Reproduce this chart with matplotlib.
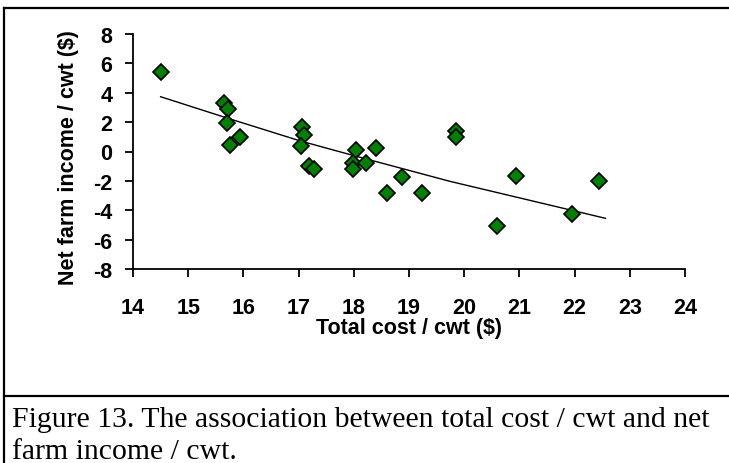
import matplotlib
matplotlib.use("Agg")
import matplotlib.pyplot as plt
from matplotlib.lines import Line2D

# values
total_cost = [14.50, 15.65, 15.72, 15.70, 15.93, 15.75, 17.07, 17.10, 17.04, 17.18,
              17.28, 18.04, 17.98, 17.98, 18.22, 18.41, 18.87, 18.60, 19.23, 19.85,
              19.85, 20.94, 20.60, 21.96, 22.45]
net_income = [5.40, 3.30, 2.90, 1.95, 0.97, 0.45, 1.70, 1.10, 0.40, -1.00,
              -1.20, 0.10, -0.80, -1.20, -0.80, 0.25, -1.75, -2.80, -2.80, 1.40,
              1.00, -1.70, -5.05, -4.25, -2.00]
# trend line as read along its course
trend_cost = [14.50, 15.72, 17.03, 18.00, 19.74, 22.56]
trend_income = [3.73, 2.26, 0.72, -0.28, -2.03, -4.55]
x_ticks = [14, 15, 16, 17, 18, 19, 20, 21, 22, 23, 24]
y_ticks = [-8, -6, -4, -2, 0, 2, 4, 6, 8]
caption_1 = "Figure 13. The association between total cost / cwt and net"
caption_2 = "farm income / cwt."

plt.rcParams['font.family'] = ['Liberation Sans', 'DejaVu Sans']
plt.rcParams['axes.unicode_minus'] = False

fig = plt.figure(figsize=(7.29, 4.64), dpi=100)
ax = fig.add_axes([133 / 729, 1 - 270 / 464, 552 / 729, 235 / 464])

ax.plot(trend_cost, trend_income, color='black', linewidth=1.0, zorder=2)
ax.plot(total_cost, net_income, linestyle='none', marker='D', markersize=8.3,
        markerfacecolor='#008000', markeredgecolor='black',
        markeredgewidth=1.2, zorder=3)

ax.set_xlim(14, 24)
ax.set_ylim(-8, 8)
ax.set_xticks(x_ticks)
ax.set_yticks(y_ticks)
for s in ['top', 'right']:
    ax.spines[s].set_visible(False)
for s in ['left', 'bottom']:
    ax.spines[s].set_linewidth(1.3)
ax.tick_params(axis='both', direction='out', length=6, width=1.3,
               labelsize=15.5)
ax.tick_params(axis='x', pad=14)
ax.tick_params(axis='y', pad=9)
for lab in ax.get_xticklabels() + ax.get_yticklabels():
    lab.set_fontweight('bold')

ax.set_xlabel("Total cost / cwt ($)", fontsize=15.5, fontweight='bold')
ax.set_ylabel("Net farm income / cwt ($)", fontsize=15.5, fontweight='bold')
ax.xaxis.set_label_coords(0.5, -0.205)
ax.yaxis.set_label_coords(-0.097, 0.48)

# frame lines around chart and caption
fig.add_artist(Line2D([4 / 729, 1.0], [1 - 9 / 464, 1 - 9 / 464],
                      color='black', linewidth=1.6, transform=fig.transFigure))
fig.add_artist(Line2D([4 / 729, 4 / 729], [0.0, 1 - 9 / 464],
                      color='black', linewidth=1.6, transform=fig.transFigure))
fig.add_artist(Line2D([4 / 729, 1.0], [1 - 397 / 464, 1 - 397 / 464],
                      color='black', linewidth=1.6, transform=fig.transFigure))

fig.text(12 / 729, 1 - 427 / 464, caption_1, fontsize=21.4,
         family=['Liberation Serif', 'DejaVu Serif'], va='baseline')
fig.text(12 / 729, 1 - 459 / 464, caption_2, fontsize=21.4,
         family=['Liberation Serif', 'DejaVu Serif'], va='baseline')

fig.savefig("out.png", dpi=100)
